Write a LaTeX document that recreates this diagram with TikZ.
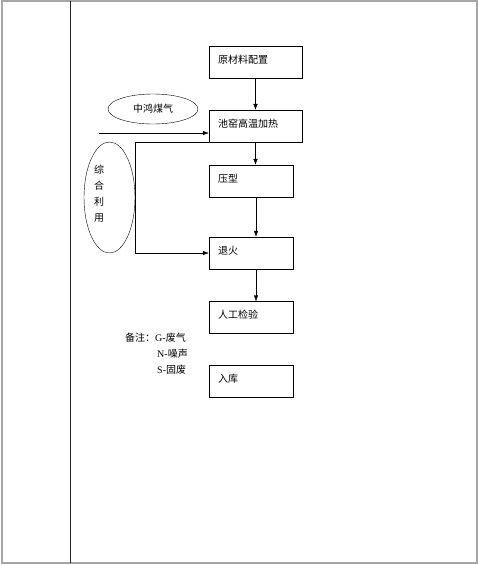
\documentclass[tikz,border=0pt]{standalone}
\usepackage{fontspec}
\setmainfont{Liberation Serif}
\newfontfamily\cjk{Noto Sans CJK SC}
\usetikzlibrary{shapes.geometric,arrows.meta}

\begin{document}
\begin{tikzpicture}[
    x=1pt, y=-1pt,
    every node/.style={inner sep=1pt, font=\cjk\fontsize{10}{12}\selectfont},
    stepbox/.style={draw, minimum height=32pt, inner xsep=9pt, text height=8pt, text depth=6pt, align=left},
    flow/.style={-{Latex[length=6pt,width=4.5pt]}},
    oval/.style={draw, ellipse, inner sep=0pt}
]
\useasboundingbox (0,0) rectangle (479,565);

% Page frame
\draw[gray!70, line width=1.2pt] (2,1) rectangle (477,563);
\draw[gray!30!black, line width=0.9pt] (70,1) -- (70,563);

% Process steps
\node[stepbox, text width=75pt] (raw) at (255.5,62) {原材料配置};
\node[stepbox, text width=75pt] (heat) at (255.5,126) {池窑高温加热};
\node[stepbox, text width=66pt] (press) at (251,181) {压型};
\node[stepbox, text width=66pt] (anneal) at (251,253) {退火};
\node[stepbox, text width=66pt] (check) at (251,317.5) {人工检验};
\node[stepbox, text width=66pt] (store) at (251,381) {入库};

% Gas and reuse
\node[oval, minimum width=90pt, minimum height=30pt] (gas) at (153,109) {中鸿煤气};
\node[oval, minimum width=51pt, minimum height=111pt] (reuse) at (109.5,197.5) {};
\node[align=center, font=\cjk\fontsize{10}{16}\selectfont] (reusetext) at (99,194) {综\\合\\利\\用};
\coordinate (gasin) at (99,133);

% Notes
\node[anchor=west] (note1) at (124,338) {备注：{\rmfamily G-}废气};
\node[anchor=west] (note2) at (156,354) {{\rmfamily N-}噪声};
\node[anchor=west] (note3) at (156,370) {{\rmfamily S-}固废};

% Flow arrows
\draw[flow] (raw.south) -- (heat.north);
\draw[flow] (heat.south) -- (heat.south |- press.north);
\draw[flow] ([xshift=5pt]press.south) -- ([xshift=5pt]anneal.north);
\draw[flow] ([xshift=5pt]anneal.south) -- ([xshift=5pt]check.north);
\draw[flow] (gasin) -- (gasin -| heat.west);
\draw[flow] (heat.south west) -- ++(-74,0) |- (anneal.west);
\end{tikzpicture}
\end{document}
